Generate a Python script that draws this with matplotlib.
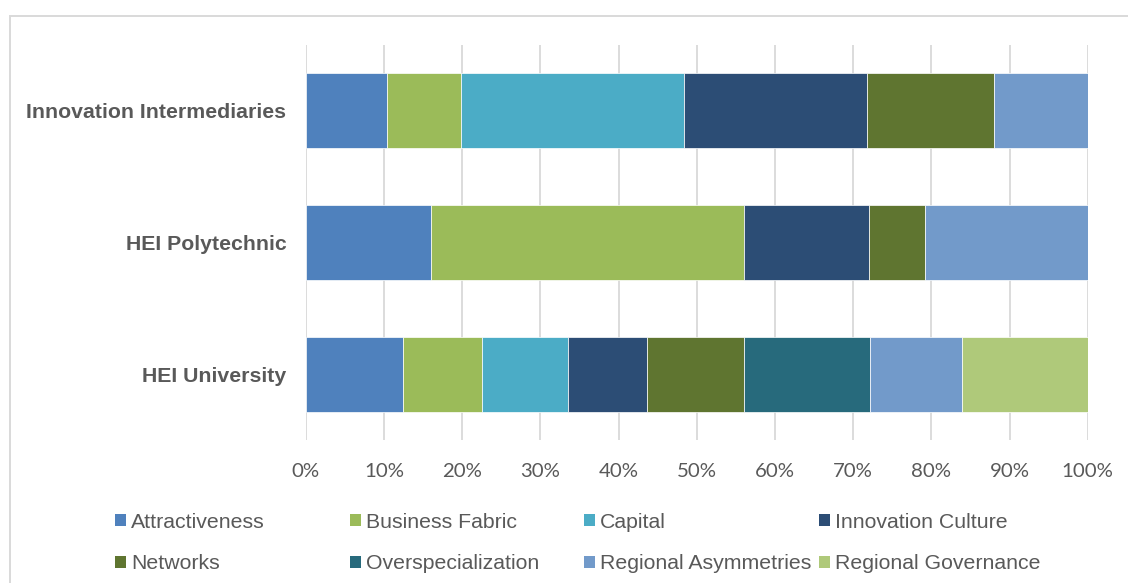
import numpy as np
import matplotlib
matplotlib.use("Agg")
import matplotlib.pyplot as plt
from matplotlib.patches import Patch, Rectangle

# share of mentions per stakeholder group (%)
categories = ["Innovation Intermediaries", "HEI Polytechnic", "HEI University"]
attractiveness = [10.4, 16.0, 12.4]
business_fabric = [9.5, 40.0, 10.1]
capital = [28.5, 0.0, 11.0]
innovation_culture = [23.4, 16.0, 10.1]
networks = [16.2, 7.2, 12.4]
overspecialization = [0.0, 0.0, 16.2]
regional_asymmetries = [12.0, 20.8, 11.7]
regional_governance = [0.0, 0.0, 16.1]

series_names = ["Attractiveness", "Business Fabric", "Capital", "Innovation Culture",
                "Networks", "Overspecialization", "Regional Asymmetries", "Regional Governance"]
series_values = [attractiveness, business_fabric, capital, innovation_culture,
                 networks, overspecialization, regional_asymmetries, regional_governance]
colors = ["#4F81BD", "#9BBB59", "#4BACC6", "#2C4D75",
          "#5F7530", "#276A7C", "#729ACA", "#AFC97A"]

TEXT = "#595959"
GRID = "#D9D9D9"

fig = plt.figure(figsize=(11.28, 5.83), dpi=100)
W, H = 1128, 583
ax = fig.add_axes([305.7 / W, 1 - 440 / H, (1087.7 - 305.7) / W, (440 - 45) / H])

ypos = np.arange(len(categories))
left = np.zeros(len(categories))
for name, vals, col in zip(series_names, series_values, colors):
    vals = np.array(vals)
    keep = vals > 0
    ax.barh(ypos[keep], vals[keep], left=left[keep], height=0.57, color=col,
            edgecolor="white", linewidth=0.5, zorder=3)
    left += vals

ax.set_xlim(0, 100)
ax.set_ylim(len(categories) - 0.5, -0.5)
ax.set_xticks(np.arange(0, 101, 10))
ax.set_xticklabels([f"{t}%" for t in range(0, 101, 10)], fontsize=14.7,
                   family="Lato", color=TEXT)
ax.set_yticks(ypos)
ax.set_yticklabels(categories, fontsize=15.3, fontweight="bold",
                   family="Liberation Sans", color=TEXT)
ax.tick_params(axis="x", length=0, pad=16.5)
ax.tick_params(axis="y", length=0, pad=14)
ax.grid(axis="x", color=GRID, linewidth=1.3, zorder=0)
for s in ax.spines.values():
    s.set_visible(False)

# legend laid out in four equal columns, two rows each
handles = [Patch(facecolor=c, edgecolor="none") for c in colors]
col_x = [115, 350, 584, 819]
for i, x in enumerate(col_x):
    idx = [i, i + 4]
    leg = fig.legend([handles[j] for j in idx], [series_names[j] for j in idx],
                     loc="upper left", bbox_to_anchor=(x / W, 1 - 512.5 / H),
                     frameon=False, borderpad=0, borderaxespad=0,
                     handlelength=0.52, handleheight=0.52, handletextpad=0.25,
                     labelspacing=1.07,
                     prop={"family": "Liberation Sans", "size": 15.3})
    for t in leg.get_texts():
        t.set_color(TEXT)

# chart border
fig.patches.append(Rectangle((10 / W, -0.2), 1.2, 1 - 16 / H + 0.2,
                             transform=fig.transFigure, fill=False,
                             edgecolor=GRID, linewidth=1.4))

fig.savefig("out.png", dpi=100)
